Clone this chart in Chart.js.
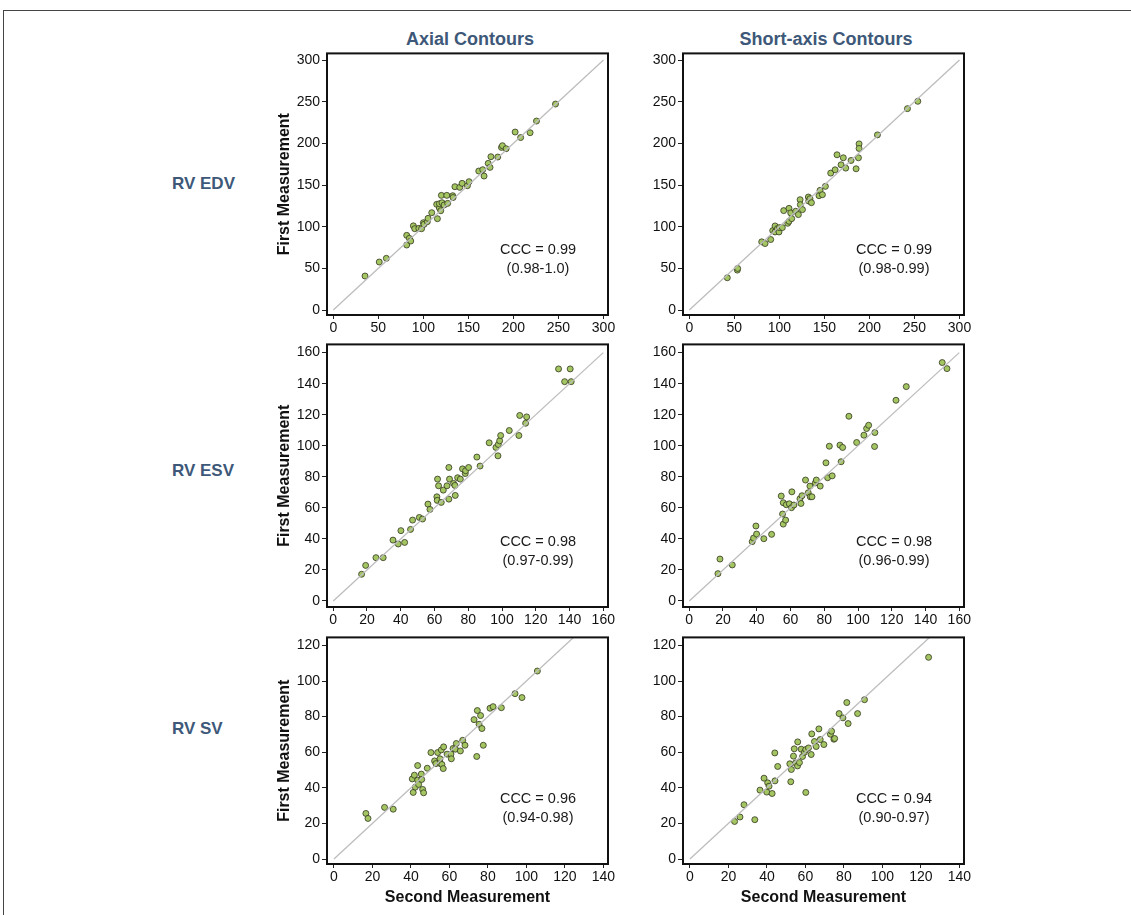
<!DOCTYPE html>
<html>
<head>
<meta charset="utf-8">
<script src="https://cdn.jsdelivr.net/npm/chart.js@4"></script>
<style>
    body { margin: 0; background: #fff; width: 1131px; height: 915px; overflow: hidden; position: relative; font-family: "Liberation Sans", Arial, sans-serif; }
    .frame { position: absolute; left: 3px; top: 10px; width: 1200px; height: 1000px; border-top: 1px solid #444; border-left: 1px solid #444; }
    .col-title, .row-label { position: absolute; font-weight: bold; color: #3d5878; white-space: nowrap; }
    .col-title { top: 29px; font-size: 18px; transform: translateX(-50%); }
    .row-label { left: 172px; font-size: 17px; transform: translateY(-50%); }
    .panel { position: absolute; }
</style>
</head>
<body>
<div class="frame"></div>
<div class="col-title" style="left:470px">Axial Contours</div>
<div class="col-title" style="left:826px">Short-axis Contours</div>
<div class="row-label" style="top:184px">RV EDV</div>
<div class="row-label" style="top:471px">RV ESV</div>
<div class="row-label" style="top:729px">RV SV</div>

<div class="panel" id="p0"><canvas id="c0"></canvas></div>
<div class="panel" id="p1"><canvas id="c1"></canvas></div>
<div class="panel" id="p2"><canvas id="c2"></canvas></div>
<div class="panel" id="p3"><canvas id="c3"></canvas></div>
<div class="panel" id="p4"><canvas id="c4"></canvas></div>
<div class="panel" id="p5"><canvas id="c5"></canvas></div>

<script>
// --- Data (second measurement = x, first measurement = y) ---
const edvAxialSecond = [35.2, 51, 58.9, 81.5, 81.5, 84.4, 86, 88.9, 90.4, 95, 98, 100, 100.7, 104.4, 105.2, 109.3, 115.6, 114.8, 117.8, 117.8, 119.3, 120, 120.7, 123, 126, 127, 132.6, 133, 135, 140.4, 143, 148.9, 150.7, 161.5, 165.9, 167.4, 172, 174, 175, 182.6, 186.7, 187.8, 191.9, 201.9, 208, 218.5, 225.6, 246.7];
const edvAxialFirst = [40.8, 57.6, 62, 89.6, 78, 86, 82.8, 101, 97.6, 98, 97.6, 104.8, 102.8, 106, 110, 116.8, 109.6, 126.8, 122.4, 127.6, 119.2, 137.6, 128.8, 126, 137.6, 128, 137.2, 135, 148, 147.2, 152, 149.2, 154, 166.8, 168.4, 160.8, 176, 171.2, 184, 183.6, 195.2, 197.2, 193.6, 213.6, 207, 212.8, 226.8, 247.2];

const edvShortSecond = [42.2, 53.3, 53.7, 80.4, 84.1, 90.4, 92.6, 95.2, 95.2, 97.8, 99.6, 100, 103.3, 104.8, 109.3, 110.7, 110.7, 112.6, 113.7, 118.1, 121.1, 123, 123.3, 125.6, 132.2, 132.6, 134, 135.6, 144, 145.2, 147.8, 151.1, 157, 161.9, 164, 168.5, 171, 173.7, 179.6, 185.2, 187.8, 188.5, 188.5, 208.9, 242.2, 253.7];
const edvShortFirst = [38.7, 47.9, 49.9, 81.8, 79.8, 84.6, 95.3, 100.9, 93.7, 97.7, 93.7, 98.9, 98.9, 119.3, 104.1, 122, 106.5, 116.5, 109.7, 118.5, 114.5, 132.4, 126.4, 120.5, 135.6, 130.8, 133.6, 128.8, 137.2, 143.6, 138.4, 148.4, 164.3, 168.3, 186.3, 174.3, 182.7, 170.3, 179.5, 169.5, 182.7, 199.4, 193.9, 210.2, 241.7, 250.5];

const esvAxialSecond = [16.8, 19.2, 25.3, 29.6, 35.4, 38.5, 40.1, 42.3, 45.8, 47, 51, 52.9, 56.1, 57.3, 61.4, 61.8, 61.6, 62.4, 64, 65.2, 67.4, 68.5, 68.5, 68.9, 71.3, 72.1, 72.3, 73.7, 75.3, 76.6, 78.2, 78.4, 80.2, 85.1, 87, 92.4, 96.4, 97.6, 97.8, 98.6, 99.2, 104.3, 110, 110.5, 114, 114.6, 133.5, 137.1, 140.4, 141];
const esvAxialFirst = [17.2, 22.9, 27.9, 27.9, 39.2, 36.7, 45.3, 37.7, 46.1, 52.1, 53.8, 52.8, 62.4, 59, 67.1, 78.5, 64.8, 74.2, 63.5, 71.4, 74.2, 86, 65.6, 78.5, 75.7, 74.4, 68, 79.4, 78.5, 85.1, 82.1, 83.9, 86, 92.7, 86.9, 101.9, 98.9, 93.5, 100.8, 103.2, 106.6, 109.8, 106.6, 119.5, 114.5, 118.6, 149.5, 141.3, 149.5, 141.3];

const esvShortSecond = [17, 18.2, 25.5, 37.3, 38.1, 39.5, 39.9, 44.2, 48.8, 54.5, 55.3, 55.7, 55.7, 57.1, 57.5, 59.3, 60.6, 60.8, 62, 65.6, 66.2, 66.8, 68.9, 70.5, 71.5, 71.7, 72.7, 74.7, 75.3, 77.6, 81, 82, 83, 84.7, 89.3, 90, 90.9, 94.6, 99.2, 103.5, 105.1, 106.3, 110, 109.8, 122.5, 128.6, 149.9, 152.7];
const esvShortFirst = [17.6, 27, 23.2, 38.2, 40.5, 48.3, 43.1, 40.1, 42.9, 67.6, 56, 63.3, 49.5, 52.1, 62, 62.6, 60.1, 70.3, 61.8, 65.8, 62.8, 67.8, 77.9, 69.7, 74, 67.1, 67.1, 76.1, 77.9, 74, 89, 79.4, 99.7, 80.6, 100.4, 89.7, 98.9, 119, 102.1, 106.8, 111.1, 113.2, 108.5, 99.5, 129.3, 138.1, 153.6, 149.7];

const svAxialSecond = [16.6, 17.7, 26.3, 30.8, 40.7, 41.2, 41.8, 42.3, 43.5, 43.5, 44, 45.4, 45.6, 46.1, 46.6, 48.5, 50.4, 52.3, 53, 53.9, 55.1, 55.3, 55.8, 56.1, 56.8, 57, 58.8, 60.8, 61, 61.9, 63.1, 63.6, 65.7, 66.9, 68.1, 72.8, 74.2, 74.5, 75.4, 76.2, 76.9, 77.6, 81.1, 82.7, 87, 94.1, 97.7, 105.7];
const svAxialFirst = [25.6, 22.8, 29, 28, 45, 37.4, 47.1, 40.4, 52.5, 44.3, 41.9, 47.7, 44.7, 39.1, 37.2, 51, 59.8, 55.1, 53.6, 59.8, 56.3, 53.6, 61.3, 53.1, 50.8, 63, 58.9, 58.9, 56.3, 62.1, 61.7, 64.9, 60.7, 66.7, 63.9, 78.3, 57.6, 83.4, 75.7, 80.6, 73.3, 63.9, 84.7, 85.6, 85, 92.9, 90.7, 105.6];

const svShortSecond = [23.2, 26, 28.1, 33.7, 36.4, 38.5, 39.9, 40.4, 41.1, 42.7, 44.1, 44.2, 45.6, 51.9, 52.4, 52.7, 53.8, 54.2, 54.9, 55.9, 56, 56.9, 57.8, 58.5, 59.5, 60.2, 60.2, 61.6, 63, 63.3, 64.7, 65.6, 67, 67.7, 69.6, 73, 73.6, 74.8, 75.2, 77.5, 79.5, 81.5, 82.2, 87.1, 90.7, 124];
const svShortFirst = [21.1, 23.6, 30.5, 22.1, 38.7, 45.4, 37.6, 42.8, 40.9, 36.8, 59.6, 43.9, 52, 53.5, 43.4, 50.3, 57.8, 61.9, 54, 52.3, 65.8, 54.2, 61.7, 57.6, 60, 61.5, 37.4, 62.4, 58.7, 70.3, 66, 63.2, 73.1, 67.1, 64.3, 70.1, 71.8, 67.3, 67.7, 81.7, 79.3, 87.9, 76.1, 81.7, 89.5, 113.3];

// CCC annotations
const cccLabels = ['CCC = 0.99', 'CCC = 0.99', 'CCC = 0.98', 'CCC = 0.98', 'CCC = 0.96', 'CCC = 0.94'];
const cccRanges = ['(0.98-1.0)', '(0.98-0.99)', '(0.97-0.99)', '(0.96-0.99)', '(0.94-0.98)', '(0.90-0.97)'];

// Tick labels per row
const edvTicks = [0, 50, 100, 150, 200, 250, 300];
const esvTicks = [0, 20, 40, 60, 80, 100, 120, 140, 160];
const svXTicks = [0, 20, 40, 60, 80, 100, 120, 140];
const svYTicks = [0, 20, 40, 60, 80, 100, 120];

// Axis bounds per row (a little room beyond the ticks) and identity line ends
const xBounds = [[-7, 305], [-3.7, 162.8], [-3.6, 142.4]];
const yBounds = [[-6, 308], [-3.9, 165.3], [-2.8, 124.5]];
const identityEnds = [300, 160, 140];

// --- Layout ---
const boxLeft = [327, 683];
const boxTop = [53, 344, 637];
const boxW = 281;
const boxH = [262, 263, 227];
const yAxisW = 56;
const padTop = 10;
const padRight = 18;
const xAxisH = [22, 22, 47];

const panels = [
    { x: edvAxialSecond, y: edvAxialFirst, row: 0, col: 0, xt: edvTicks, yt: edvTicks },
    { x: edvShortSecond, y: edvShortFirst, row: 0, col: 1, xt: edvTicks, yt: edvTicks },
    { x: esvAxialSecond, y: esvAxialFirst, row: 1, col: 0, xt: esvTicks, yt: esvTicks },
    { x: esvShortSecond, y: esvShortFirst, row: 1, col: 1, xt: esvTicks, yt: esvTicks },
    { x: svAxialSecond, y: svAxialFirst, row: 2, col: 0, xt: svXTicks, yt: svYTicks },
    { x: svShortSecond, y: svShortFirst, row: 2, col: 1, xt: svXTicks, yt: svYTicks }
];

// draws the closed frame round the plot and the CCC text
const boxPlugin = {
    id: 'boxAndCcc',
    afterDatasetsDraw(chart) {
        const { ctx, chartArea: a } = chart;
        const opts = chart.options.plugins.boxAndCcc;
        ctx.save();
        ctx.strokeStyle = '#111';
        ctx.lineWidth = 2;
        ctx.strokeRect(a.left, a.top, a.right - a.left, a.bottom - a.top);
        ctx.fillStyle = '#1a1a1a';
        ctx.font = '14.5px "Liberation Sans", Arial, sans-serif';
        ctx.textAlign = 'center';
        ctx.textBaseline = 'middle';
        ctx.fillText(opts.label, a.right - 70, a.bottom - 65);
        ctx.fillText(opts.range, a.right - 70, a.bottom - 46);
        ctx.restore();
    }
};

const tickFont = { family: '"Liberation Sans", Arial, sans-serif', size: 14 };
const titleFont = { family: '"Liberation Sans", Arial, sans-serif', size: 16, weight: 'bold' };

panels.forEach((p, i) => {
    const w = yAxisW + boxW + padRight;
    const h = padTop + boxH[p.row] + xAxisH[p.row];
    const holder = document.getElementById('p' + i);
    holder.style.left = (boxLeft[p.col] - yAxisW) + 'px';
    holder.style.top = (boxTop[p.row] - padTop) + 'px';
    const canvas = document.getElementById('c' + i);
    canvas.width = w;
    canvas.height = h;

    const points = p.x.map((v, k) => ({ x: v, y: p.y[k] }));
    const end = identityEnds[p.row];

    new Chart(canvas.getContext('2d'), {
        type: 'scatter',
        data: {
            datasets: [
                {
                    type: 'line',
                    data: [{ x: 0, y: 0 }, { x: end, y: end }],
                    borderColor: '#bdbdbd',
                    borderWidth: 1.3,
                    pointRadius: 0,
                    fill: false
                },
                {
                    data: points,
                    pointRadius: 3,
                    pointBorderWidth: 0.8,
                    borderColor: '#33361f',
                    backgroundColor: '#a3c562'
                }
            ]
        },
        options: {
            responsive: false,
            animation: false,
            events: [],
            layout: { padding: { top: padTop, right: padRight, left: 0, bottom: 0 } },
            plugins: {
                legend: { display: false },
                tooltip: { enabled: false },
                boxAndCcc: { label: cccLabels[i], range: cccRanges[i] }
            },
            scales: {
                x: {
                    type: 'linear',
                    min: xBounds[p.row][0],
                    max: xBounds[p.row][1],
                    afterBuildTicks: s => { s.ticks = p.xt.map(v => ({ value: v })); },
                    afterFit: s => { s.height = xAxisH[p.row]; },
                    border: { display: false },
                    grid: { drawOnChartArea: false, drawTicks: true, tickLength: 4, color: '#222' },
                    ticks: { font: tickFont, color: '#111', padding: 1, maxRotation: 0 },
                    title: { display: p.row === 2, text: 'Second Measurement', font: titleFont, color: '#111' }
                },
                y: {
                    type: 'linear',
                    min: yBounds[p.row][0],
                    max: yBounds[p.row][1],
                    afterBuildTicks: s => { s.ticks = p.yt.map(v => ({ value: v })); },
                    afterFit: s => { s.width = yAxisW; },
                    border: { display: false },
                    grid: { drawOnChartArea: false, drawTicks: true, tickLength: 5, color: '#222' },
                    ticks: { font: tickFont, color: '#111', padding: 2 },
                    title: { display: p.col === 0, text: 'First Measurement', font: titleFont, color: '#111' }
                }
            }
        },
        plugins: [boxPlugin]
    });
});
</script>
</body>
</html>
